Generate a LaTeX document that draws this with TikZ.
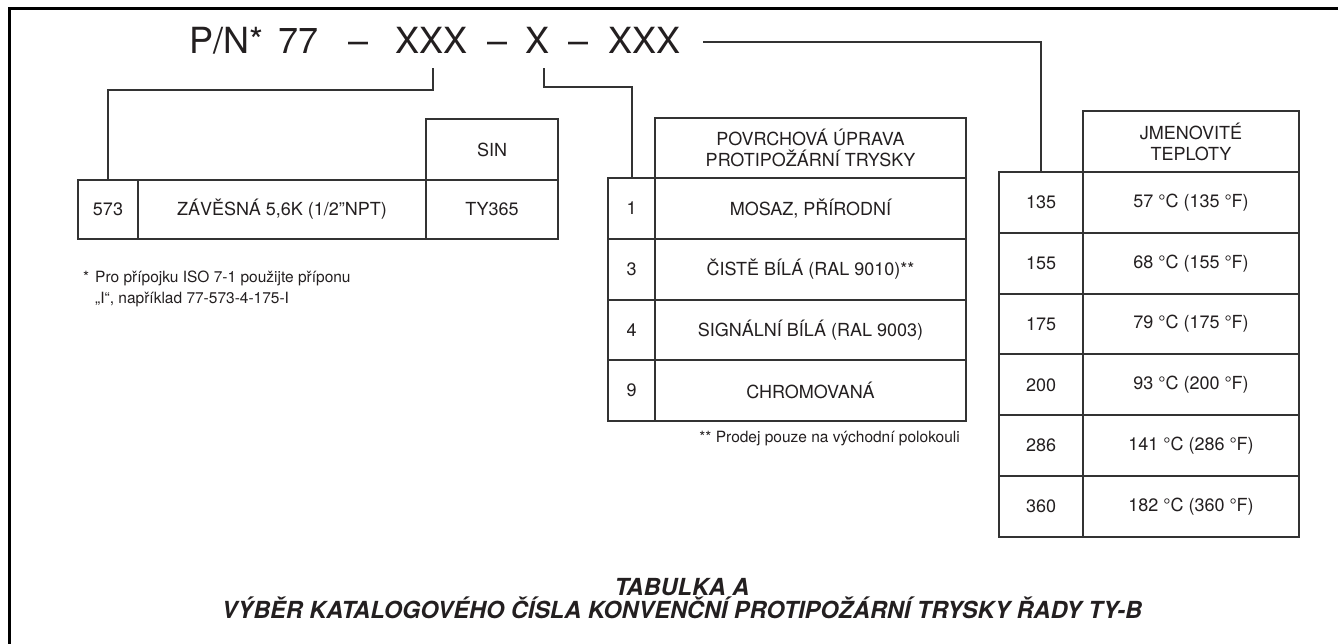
\documentclass[tikz,border=0pt]{standalone}
\usepackage{fontspec}
\setmainfont{TeX Gyre Heros}
\definecolor{ink}{HTML}{231F20}
\definecolor{linec}{HTML}{333333}
\begin{document}
\begin{tikzpicture}[x=1pt,y=-1pt,
  cell/.style={draw=linec, line width=2pt, inner sep=0pt, anchor=north west,
    text=ink, font=\fontsize{18}{21}\selectfont, align=center},
  pnpart/.style={inner sep=0pt, anchor=base west, text=ink, font=\fontsize{36}{40}\selectfont},
  fn/.style={inner sep=0pt, anchor=base west, text=ink, font=\fontsize{15.5}{18}\selectfont},
  conn/.style={draw=linec, line width=2pt},
  ttl/.style={inner sep=0pt, anchor=base, text=ink, font=\fontsize{23.5}{26}\selectfont\bfseries\itshape}]
\useasboundingbox (0,0) rectangle (1338,644);
\fill[white] (0,0) rectangle (1338,644);
% frame (top and left)
\draw[line width=3.5pt, black] (9.5,644) -- (9.5,8.5) -- (1338,8.5);
% part number
\node[pnpart] (pn) at (189,54) {P/N*};
\node[pnpart] (n77) at (278,54) {77};
\node[pnpart] (d1) at (348,54) {–};
\node[pnpart] (xxx1) at (395,54) {XXX};
\node[pnpart] (d2) at (487,54) {–};
\node[pnpart] (x2) at (525,54) {X};
\node[pnpart] (d3) at (568,54) {–};
\node[pnpart] (xxx3) at (608,54) {XXX};
% table 1
\node[cell, minimum width=60pt, minimum height=59pt] (a573) at (77,179) {573};
\node[cell, minimum width=288pt, minimum height=59pt] (aname) at (137,179) {ZÁVĚSNÁ 5,6K (1/2”NPT)};
\node[cell, minimum width=132pt, minimum height=59pt] (asin) at (425,179) {TY365};
\node[cell, minimum width=132pt, minimum height=61pt] (asinh) at (425,118) {SIN};
\node[fn] (f1a) at (83,283) {*};
\node[fn] (f1b) at (95,283) {Pro přípojku ISO 7-1 použijte příponu};
\node[fn] (f1c) at (95,303) {„I“, například 77-573-4-175-I};
% table 2
\node[cell, minimum width=311pt, minimum height=60pt] (bh) at (654,117) {POVRCHOVÁ ÚPRAVA\\PROTIPOŽÁRNÍ TRYSKY};
\foreach \i/\n/\t in {0/1/{MOSAZ, PŘÍRODNÍ},1/3/{ČISTĚ BÍLÁ (RAL 9010)**},2/4/{SIGNÁLNÍ BÍLÁ (RAL 9003)},3/9/{CHROMOVANÁ}}{
  \node[cell, minimum width=47pt, minimum height=60.75pt] (bn\i) at (607,{177+60.75*\i}) {\n};
  \node[cell, minimum width=311pt, minimum height=60.75pt] (bt\i) at (654,{177+60.75*\i}) {\t};
}
\node[fn, anchor=base east] (f2) at (960,442) {** Prodej pouze na východní polokouli};
% table 3
\node[cell, minimum width=216pt, minimum height=61pt] (ch) at (1082,110) {JMENOVITÉ\\TEPLOTY};
\foreach \i/\n/\t in {0/135/{57 °C (135 °F)},1/155/{68 °C (155 °F)},2/175/{79 °C (175 °F)},3/200/{93 °C (200 °F)},4/286/{141 °C (286 °F)},5/360/{182 °C (360 °F)}}{
  \node[cell, minimum width=84pt, minimum height=60.8pt] (cn\i) at (998,{171+60.8*\i}) {\n};
  \node[cell, minimum width=216pt, minimum height=60.8pt] (ct\i) at (1082,{171+60.8*\i}) {\t};
}
% connectors
\draw[conn] ([xshift=2pt,yshift=-14pt]xxx1.south) -- ++(0,22) -| (a573.north);
\draw[conn] ([xshift=7pt,yshift=-14pt]x2.south) -- ++(0,19) -| (bn0.north);
\draw[conn] ([xshift=23pt,yshift=12pt]xxx3.base east) -| (cn0.north);
% title
\node[ttl] (title1) at (682,595) {TABULKA A};
\node[ttl] (title2) at (682,618) {VÝBĚR KATALOGOVÉHO ČÍSLA KONVENČNÍ PROTIPOŽÁRNÍ TRYSKY ŘADY TY-B};
\end{tikzpicture}
\end{document}
